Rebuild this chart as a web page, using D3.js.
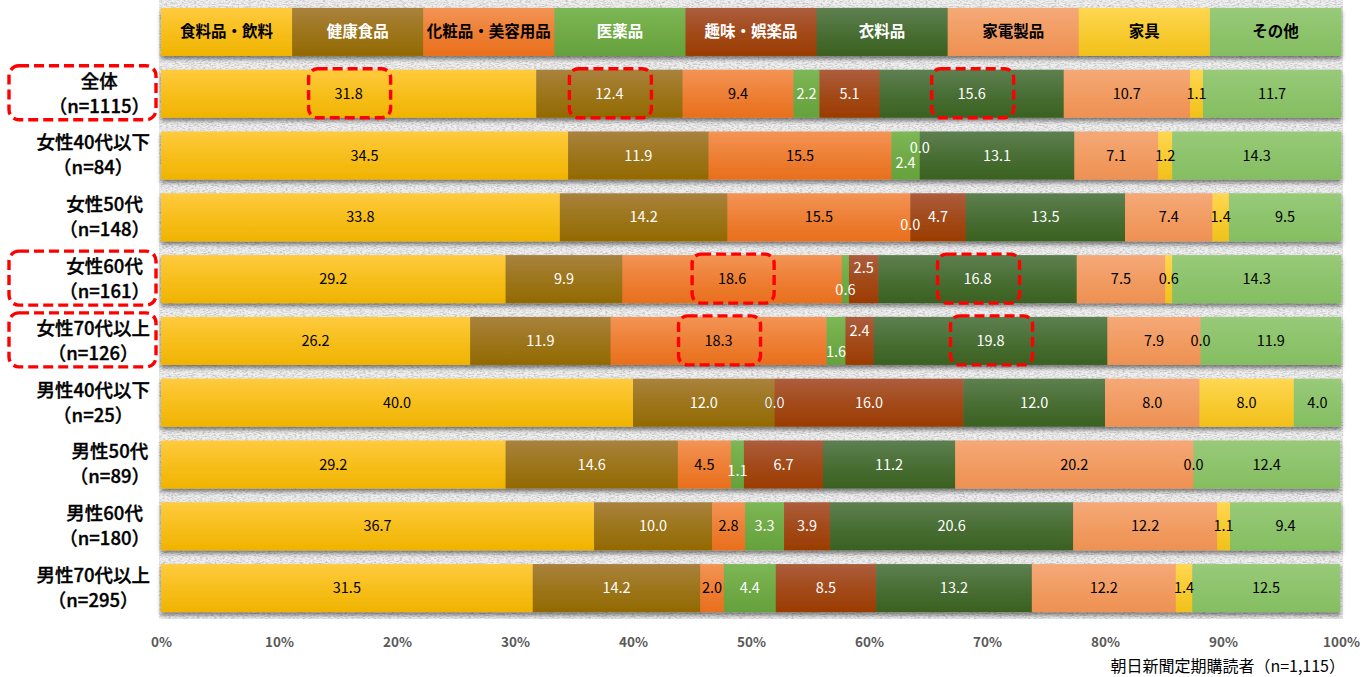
<!DOCTYPE html>
<html><head><meta charset="utf-8">
<script src="https://cdn.jsdelivr.net/npm/d3@7/dist/d3.min.js"></script>
<style>
html,body{margin:0;padding:0;background:#fff;}
svg{display:block;font-family:"Noto Sans CJK JP","Noto Sans",sans-serif;}
</style></head>
<body><svg id="c" width="1366" height="677"></svg>
<script>
const categories = ["食料品・飲料","健康食品","化粧品・美容用品","医薬品","趣味・娯楽品","衣料品","家電製品","家具","その他"];
const groups = ["全体","女性40代以下","女性50代","女性60代","女性70代以上","男性40代以下","男性50代","男性60代","男性70代以上"];
const groupN = ["（n=1115）","（n=84）","（n=148）","（n=161）","（n=126）","（n=25）","（n=89）","（n=180）","（n=295）"];
const v_all   = [31.8,12.4, 9.4,2.2, 5.1,15.6,10.7,1.1,11.7];
const v_f40   = [34.5,11.9,15.5,2.4, 0.0,13.1, 7.1,1.2,14.3];
const v_f50   = [33.8,14.2,15.5,0.0, 4.7,13.5, 7.4,1.4, 9.5];
const v_f60   = [29.2, 9.9,18.6,0.6, 2.5,16.8, 7.5,0.6,14.3];
const v_f70   = [26.2,11.9,18.3,1.6, 2.4,19.8, 7.9,0.0,11.9];
const v_m40   = [40.0,12.0, 0.0,0.0,16.0,12.0, 8.0,8.0, 4.0];
const v_m50   = [29.2,14.6, 4.5,1.1, 6.7,11.2,20.2,0.0,12.4];
const v_m60   = [36.7,10.0, 2.8,3.3, 3.9,20.6,12.2,1.1, 9.4];
const v_m70   = [31.5,14.2, 2.0,4.4, 8.5,13.2,12.2,1.4,12.5];
const seriesValues = [v_all,v_f40,v_f50,v_f60,v_f70,v_m40,v_m50,v_m60,v_m70];
const tickValues = [0,10,20,30,40,50,60,70,80,90,100];
const sourceNote = "朝日新聞定期購読者（n=1,115）";
const highlightGroups = ["全体","女性60代","女性70代以上"];
const highlightCells = [["全体","食料品・飲料"],["全体","健康食品"],["全体","衣料品"],["女性60代","化粧品・美容用品"],["女性60代","衣料品"],["女性70代以上","化粧品・美容用品"],["女性70代以上","衣料品"]];

// styling
const colTop = ["#FFCB3E","#A9823E","#F39455","#7DB756","#AC5D3D","#5E8050","#F5A977","#FFD752","#98CA79"];
const colBot = ["#F0B400","#936A00","#E96F1C","#65A13B","#9B3C00","#3A6120","#EE9152","#F1C11A","#85BE61"];
const txtCol = ["#000","#fff","#000","#fff","#fff","#fff","#000","#000","#000"];
const labelNudge = {"女性40代以下|医薬品":7,"女性40代以下|趣味・娯楽品":-8,"女性50代|医薬品":8,"女性60代|医薬品":11,"女性60代|趣味・娯楽品":-11,"女性70代以上|医薬品":11,"女性70代以上|趣味・娯楽品":-10,"男性50代|医薬品":6};

const svg = d3.select("#c");
const defs = svg.append("defs");
categories.forEach((c,i)=>{
  const g = defs.append("linearGradient").attr("id","g"+i).attr("x1",0).attr("y1",0).attr("x2",0).attr("y2",1);
  g.append("stop").attr("offset","0%").attr("stop-color",colTop[i]);
  g.append("stop").attr("offset","55%").attr("stop-color",d3.interpolateRgb(colTop[i],colBot[i])(0.6));
  g.append("stop").attr("offset","100%").attr("stop-color",colBot[i]);
});
const paper = defs.append("filter").attr("id","paper").attr("x",0).attr("y",0).attr("width","100%").attr("height","100%");
paper.append("feTurbulence").attr("type","fractalNoise").attr("baseFrequency","0.35 1.1").attr("numOctaves",3).attr("seed",4).attr("result","n");
paper.append("feColorMatrix").attr("in","n").attr("type","matrix")
  .attr("values","0 0 0 0 0.55  0 0 0 0 0.55  0 0 0 0 0.55  2.6 0 0 0 -1.05").attr("result","spots");
paper.append("feFlood").attr("flood-color","#f0f0f0").attr("result","bg");
const pm = paper.append("feMerge"); pm.append("feMergeNode").attr("in","bg"); pm.append("feMergeNode").attr("in","spots");
const sh = defs.append("filter").attr("id","shadow").attr("x","-5%").attr("y","-20%").attr("width","110%").attr("height","160%");
sh.append("feDropShadow").attr("dx",0).attr("dy",3).attr("stdDeviation",2).attr("flood-color","#000").attr("flood-opacity",0.5);

const x = d3.scaleLinear().domain([0,100]).range([161,1341]);
const y = d3.scaleBand().domain(["__legend",...groups]).range([1,619]).paddingInner(0.223).paddingOuter(0.112);
const bw = y.bandwidth();

// background paper texture
svg.append("rect").attr("x",x(0)-2).attr("y",0).attr("width",x(100)-x(0)+4).attr("height",y.range()[1]).attr("filter","url(#paper)");

// legend row
const lg = svg.append("g").attr("filter","url(#shadow)");
const legW = (x(100)-x(0))/categories.length;
categories.forEach((c,i)=>{
  lg.append("rect").attr("x",x(0)+i*legW).attr("y",y("__legend")).attr("width",legW+0.5).attr("height",bw).attr("fill",`url(#g${i})`);
});
categories.forEach((c,i)=>{
  svg.append("text").attr("x",x(0)+i*legW+legW/2).attr("y",y("__legend")+bw/2).attr("dy","0.35em")
    .attr("text-anchor","middle").attr("font-size",15.5).attr("font-weight","bold").attr("fill",txtCol[i]).text(c);
});

// stacked bars
const rows = groups.map((g,gi)=>{
  let acc=0;
  return categories.map((c,ci)=>{ const v=seriesValues[gi][ci]; const o={g,c,ci,v,x0:acc,x1:acc+v}; acc+=v; return o;});
});
rows.forEach(segs=>{
  const gEl = svg.append("g").attr("filter","url(#shadow)");
  gEl.selectAll("rect").data(segs).join("rect")
    .attr("x",d=>x(d.x0)).attr("y",d=>y(d.g)).attr("width",d=>Math.max(0,x(d.x1)-x(d.x0)+ (d.v>0?0.4:0)))
    .attr("height",bw).attr("fill",d=>`url(#g${d.ci})`);
});
rows.forEach(segs=>{
  svg.append("g").selectAll("text").data(segs).join("text")
    .attr("x",d=>x((d.x0+d.x1)/2)).attr("y",d=>y(d.g)+bw/2+(labelNudge[d.g+"|"+d.c]||0)).attr("dy","0.35em")
    .attr("text-anchor","middle").attr("font-size",14.5).attr("fill",d=>txtCol[d.ci]).text(d=>d.v.toFixed(1));
});

// category labels (two lines, block right-aligned, lines centred)
const rightEdge = 150;
groups.forEach((g,gi)=>{
  const cy = y(g)+bw/2;
  const t = svg.append("text").attr("text-anchor","middle").attr("font-size",18.5).attr("font-weight",500)
    .attr("fill","#000").attr("stroke","#000").attr("stroke-width",0.35);
  const s1 = t.append("tspan").attr("y",cy-12.5).attr("dy","0.35em").text(g);
  const s2 = t.append("tspan").attr("y",cy+12.5).attr("dy","0.35em").text(groupN[gi]);
  const w = Math.max(s1.node().getComputedTextLength(), s2.node().getComputedTextLength());
  s1.attr("x",rightEdge-w/2); s2.attr("x",rightEdge-w/2);
});

// x axis
const ax = svg.append("g").attr("transform",`translate(0,${645})`)
  .call(d3.axisBottom(x).tickValues(tickValues).tickFormat(d=>d+"%").tickSize(0));
ax.select(".domain").remove();
ax.selectAll("text").attr("font-size",13.5).attr("font-weight","bold").attr("fill","#595959").attr("dy","-0.1em")
  .attr("font-family","\"Noto Sans CJK JP\",sans-serif");

// source note
svg.append("text").attr("x",1345).attr("y",666).attr("dy","0.35em").attr("text-anchor","end").attr("font-size",16).attr("fill","#000").text(sourceNote);

// red dashed highlight boxes
const red = svg.append("g").attr("fill","none").attr("stroke","#FF0000").attr("stroke-width",3.4).attr("stroke-dasharray","10,5");
highlightGroups.forEach(g=>{
  red.append("rect").attr("x",9).attr("y",y(g)-4).attr("width",147).attr("height",bw+6).attr("rx",10);
});
highlightCells.forEach(([g,c])=>{
  const seg = rows[groups.indexOf(g)][categories.indexOf(c)];
  const cx = x((seg.x0+seg.x1)/2);
  red.append("rect").attr("x",cx-40).attr("y",y(g)-1).attr("width",82).attr("height",bw+1).attr("rx",9);
});
</script></body></html>
